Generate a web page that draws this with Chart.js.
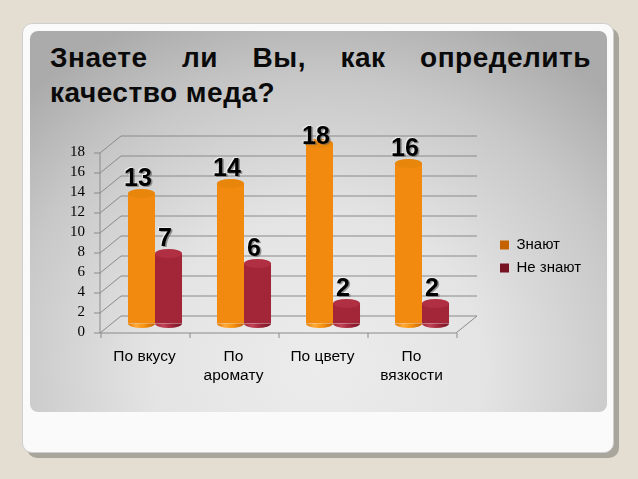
<!DOCTYPE html>
<html>
<head>
<meta charset="utf-8">
<script src="https://cdn.jsdelivr.net/npm/chart.js@4"></script>
<style>
  html, body { margin:0; padding:0; }
  body { width:638px; height:479px; background:#e4ded2; position:relative; overflow:hidden; }
  #card { position:absolute; left:22px; top:23px; width:590px; height:428px; background:#fafafa;
          border:1px solid #cfcfcf; border-radius:10px; box-shadow:5px 5px 0 #a8a59c; }
  #panel { position:absolute; left:30px; top:31px; width:577px; height:381px; border-radius:8px;
           background: radial-gradient(ellipse 72% 100% at 50% 88%, #ececec 0%, #e4e4e4 40%, #c8c8c8 75%, #ababab 100%); }
  #title { position:absolute; left:50px; top:40px; width:541px; font-family:"Liberation Sans", Arial, sans-serif;
           font-weight:bold; font-size:28px; letter-spacing:0.5px; line-height:35px; text-align:justify; color:#0a0a0a; }
  #c { position:absolute; left:0; top:0; }
</style>
</head>
<body>
<div id="card"></div>
<div id="panel"></div>
<div id="title">Знаете ли Вы, как определить качество меда?</div>
<canvas id="c" width="638" height="479"></canvas>
<script>
const categories = [['По вкусу'], ['По', 'аромату'], ['По цвету'], ['По', 'вязкости']];
const seriesNames = ['Знают', 'Не знают'];
const knowValues = [13, 14, 18, 16];
const dontKnowValues = [7, 6, 2, 2];
const yTickMin = 0, yTickMax = 18, yTickStep = 2;

const DX = 10.5, DY = 8.5; // half depth of the 3D box

const palettes = [
  { solid:'#f28a10', left:'#e37c04', hi:'#ffaa3a', mid:'#f7920f', right:'#c46200', cap:'#e8860b' },
  { solid:'#a32638', left:'#a62a3c', hi:'#c14356', mid:'#a2263a', right:'#761222', cap:'#b02f42' }
];

function cylFill(ctx, p, x0, w) {
  const g = ctx.createLinearGradient(x0, 0, x0 + w, 0);
  g.addColorStop(0, p.left);
  g.addColorStop(0.3, p.hi);
  g.addColorStop(0.6, p.mid);
  g.addColorStop(1, p.right);
  return g;
}

function bg(di) {
  return (c) => {
    const el = c.element;
    if (c.type !== 'data' || !el || !Number.isFinite(el.x) || !Number.isFinite(el.width)) return palettes[di].solid;
    return cylFill(c.chart.ctx, palettes[di], el.x - el.width / 2, el.width);
  };
}

const box3d = {
  id: 'box3d',
  beforeDatasetsDraw(chart) {
    const { ctx, chartArea: a, scales: { x, y } } = chart;
    const L = a.left, R = a.right;
    ctx.save();
    ctx.strokeStyle = '#8a8a8a';
    ctx.lineWidth = 1;
    ctx.beginPath();
    y.ticks.forEach(t => {
      const yp = Math.round(y.getPixelForValue(t.value)) + 0.5;
      ctx.moveTo(L - DX - 6, yp + DY);
      ctx.lineTo(L - DX, yp + DY);
      ctx.lineTo(L + DX, yp - DY);
      ctx.lineTo(R + DX, yp - DY);
    });
    const y0 = Math.round(y.getPixelForValue(yTickMin)) + 0.5;
    const yT = Math.round(y.getPixelForValue(yTickMax)) + 0.5;
    ctx.moveTo(L - DX, y0 + DY);
    ctx.lineTo(L - DX, yT + DY);
    ctx.moveTo(L - DX, y0 + DY);
    ctx.lineTo(R - DX, y0 + DY);
    ctx.lineTo(R + DX, y0 - DY);
    for (let i = 0; i <= categories.length; i++) {
      const xb = Math.round(x.getPixelForValue(i - 0.5)) + 0.5 - DX;
      ctx.moveTo(xb, y0 + DY);
      ctx.lineTo(xb, y0 + DY + 5);
    }
    ctx.stroke();
    ctx.restore();
  },
  afterDatasetsDraw(chart) {
    const { ctx } = chart;
    ctx.save();
    chart.data.datasets.forEach((ds, di) => {
      const meta = chart.getDatasetMeta(di);
      const p = palettes[di];
      meta.data.forEach(el => {
        const w = el.width, cx = el.x, rx = w / 2, ry = 4.5;
        ctx.fillStyle = cylFill(ctx, p, cx - rx, w);
        ctx.beginPath();
        ctx.ellipse(cx, el.base, rx, ry, 0, 0, Math.PI);
        ctx.fill();
        ctx.beginPath();
        ctx.ellipse(cx, el.y, rx, ry, 0, 0, Math.PI * 2);
        ctx.fillStyle = p.cap;
        ctx.fill();
      });
    });
    ctx.font = 'bold 25px "Liberation Sans", Arial, sans-serif';
    ctx.textAlign = 'center';
    ctx.textBaseline = 'middle';
    chart.data.datasets.forEach((ds, di) => {
      const meta = chart.getDatasetMeta(di);
      meta.data.forEach((el, i) => {
        const lx = el.x - 3.5;
        const ly = Math.max(el.y - 14.5, 137);
        const txt = String(ds.data[i]);
        ctx.fillStyle = 'rgba(255,255,255,0.6)';
        ctx.fillText(txt, lx - 1, ly - 1);
        ctx.fillStyle = 'rgba(90,90,90,0.6)';
        ctx.fillText(txt, lx + 1.5, ly + 1.5);
        ctx.fillStyle = '#000';
        ctx.fillText(txt, lx, ly);
      });
    });
    ctx.restore();
  }
};

const hiddenAxis = (position, size) => ({
  type: 'linear', position, min: 0, max: 1,
  grid: { display: false, drawTicks: false },
  border: { display: false },
  ticks: { display: false },
  afterFit: s => { if (position === 'top') s.height = size; else s.width = size; }
});

new Chart(document.getElementById('c'), {
  type: 'bar',
  data: {
    labels: categories,
    datasets: [
      { label: seriesNames[0], data: knowValues, backgroundColor: bg(0), borderWidth: 0 },
      { label: seriesNames[1], data: dontKnowValues, backgroundColor: bg(1), borderWidth: 0 }
    ]
  },
  options: {
    responsive: false,
    animation: false,
    events: [],
    categoryPercentage: 0.607,
    barPercentage: 1.0,
    layout: { padding: { left: 70.5, top: 119.5, right: 51, bottom: 85.5 } },
    scales: {
      x: {
        offset: true,
        grid: { display: false, drawTicks: false },
        border: { display: false },
        ticks: {
          color: '#000', padding: 24, labelOffset: -DX, maxRotation: 0, autoSkip: false,
          font: { family: '"Liberation Sans", Arial, sans-serif', size: 15.5, lineHeight: 1.23 }
        },
        afterFit: s => { s.height = 70; }
      },
      y: {
        min: yTickMin, max: yTickMax,
        grid: { display: false, drawTicks: false },
        border: { display: false },
        ticks: {
          stepSize: yTickStep, autoSkip: false, color: '#000', padding: 25.5, labelOffset: DY,
          font: { family: '"Liberation Serif", "Times New Roman", serif', size: 15 }
        },
        afterFit: s => { s.width = 40; }
      },
      yr: hiddenAxis('right', 25.5),
      xt: hiddenAxis('top', 24)
    },
    plugins: {
      legend: {
        position: 'right',
        maxWidth: 95,
        labels: {
          boxWidth: 9, boxHeight: 9, padding: 8, color: '#000',
          font: { family: '"Liberation Sans", Arial, sans-serif', size: 15 }
        }
      },
      tooltip: { enabled: false }
    }
  },
  plugins: [box3d]
});
</script>
</body>
</html>
